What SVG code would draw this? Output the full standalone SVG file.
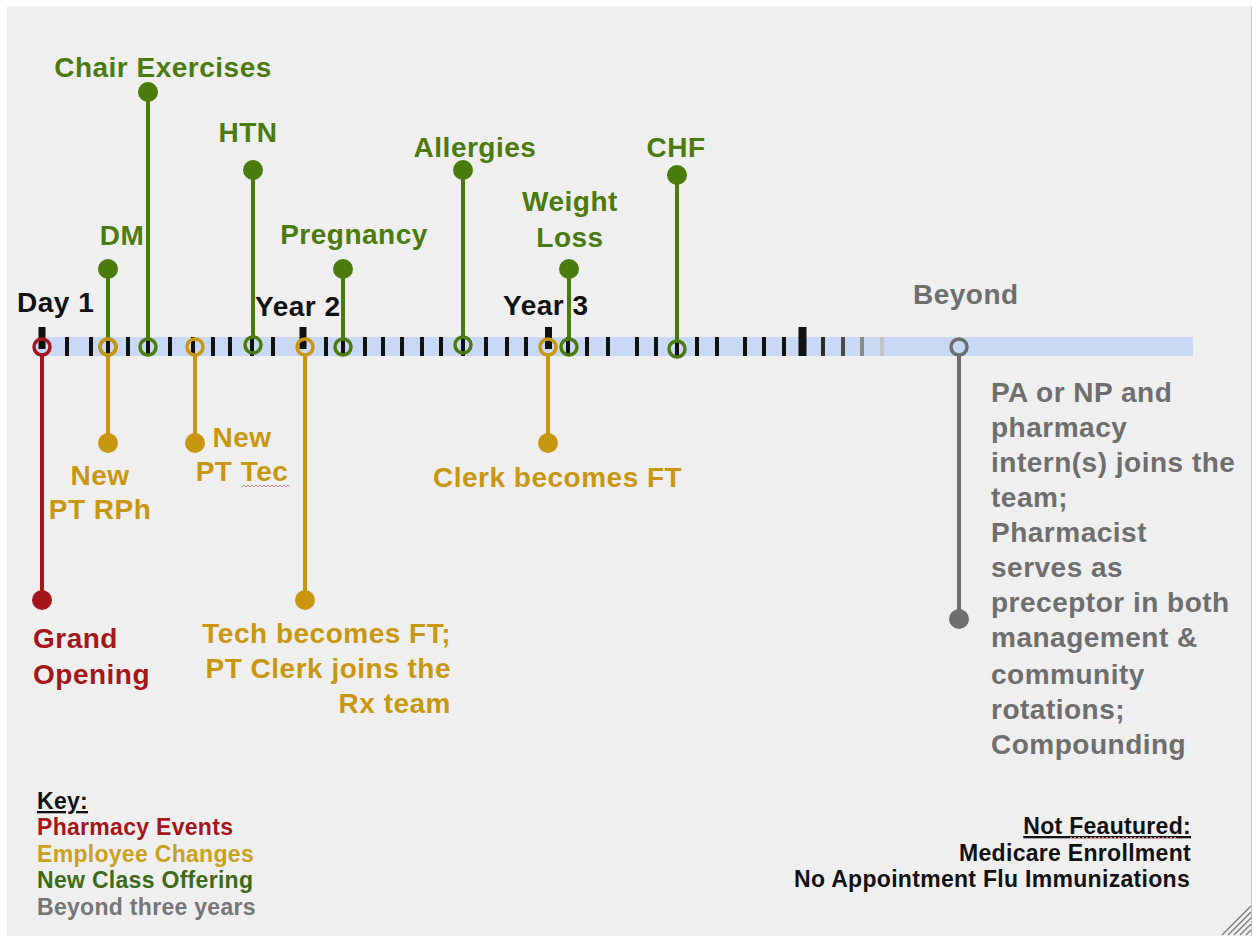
<svg xmlns="http://www.w3.org/2000/svg" width="1253" height="936" viewBox="0 0 1253 936">
<style>
text{font-family:"Liberation Sans",Arial,Helvetica,sans-serif;font-weight:bold;font-size:28px;letter-spacing:0.5px}
.g{fill:#4a7b0c}.o{fill:#c9970f}.r{fill:#a4161a}.y{fill:#6e6e6e}.k{fill:#111}
.key{font-size:23px;letter-spacing:0.3px}
.sg{stroke:#4a7b0c}.so{stroke:#c9970f}.sr{stroke:#a4161a}.sy{stroke:#6e6e6e}
.stem{stroke-width:4;fill:none}
.ring{stroke-width:3.5;fill:none}
.tk{fill:#111}
.mid{text-anchor:middle}.end{text-anchor:end}
.squig{fill:none;stroke:#e08890;stroke-width:1}
</style>
<rect x="0" y="0" width="1253" height="936" fill="#ffffff"/>
<rect x="7" y="6" width="1245" height="930" fill="#efefef"/>
<line x1="1251.5" y1="6" x2="1251.5" y2="936" stroke="#c8c8c8" stroke-width="1"/>
<g id="resize-grip" stroke="#777" stroke-width="1.2">
<line x1="1222" y1="935" x2="1251" y2="906"/>
<line x1="1228" y1="935" x2="1251" y2="912"/>
<line x1="1234" y1="935" x2="1251" y2="918"/>
<line x1="1240" y1="935" x2="1251" y2="924"/>
<line x1="1246" y1="935" x2="1251" y2="930"/>
</g>

<g id="axis">
<rect x="36" y="337" width="1157" height="19" fill="#c8d8f5"/>
<g id="ticks">
<rect class="tk" x="38.5" y="327" width="7" height="22"/>
<rect class="tk" x="65" y="337" width="4" height="19"/>
<rect class="tk" x="89" y="337" width="4" height="19"/>
<rect class="tk" x="106" y="337" width="4" height="19"/>
<rect class="tk" x="126" y="337" width="4" height="19"/>
<rect class="tk" x="146" y="337" width="4" height="19"/>
<rect class="tk" x="168" y="337" width="4" height="19"/>
<rect class="tk" x="191" y="337" width="4" height="19"/>
<rect class="tk" x="211" y="337" width="4" height="19"/>
<rect class="tk" x="228" y="337" width="4" height="19"/>
<rect class="tk" x="250" y="337" width="4" height="19"/>
<rect class="tk" x="271" y="337" width="4" height="19"/>
<rect class="tk" x="299.5" y="327" width="7" height="22"/>
<rect class="tk" x="324" y="337" width="4" height="19"/>
<rect class="tk" x="341" y="337" width="4" height="19"/>
<rect class="tk" x="363" y="337" width="4" height="19"/>
<rect class="tk" x="381" y="337" width="4" height="19"/>
<rect class="tk" x="400" y="337" width="4" height="19"/>
<rect class="tk" x="420" y="337" width="4" height="19"/>
<rect class="tk" x="439" y="337" width="4" height="19"/>
<rect class="tk" x="461" y="337" width="4" height="19"/>
<rect class="tk" x="484" y="337" width="4" height="19"/>
<rect class="tk" x="505" y="337" width="4" height="19"/>
<rect class="tk" x="524" y="337" width="4" height="19"/>
<rect class="tk" x="545" y="327" width="7" height="22"/>
<rect class="tk" x="566" y="337" width="4" height="19"/>
<rect class="tk" x="585" y="337" width="4" height="19"/>
<rect class="tk" x="606" y="337" width="4" height="19"/>
<rect class="tk" x="635" y="337" width="4" height="19"/>
<rect class="tk" x="654" y="337" width="4" height="19"/>
<rect class="tk" x="675" y="337" width="4" height="19"/>
<rect class="tk" x="695" y="337" width="4" height="19"/>
<rect class="tk" x="715" y="337" width="4" height="19"/>
<rect class="tk" x="743" y="337" width="4" height="19"/>
<rect class="tk" x="762" y="337" width="4" height="19"/>
<rect class="tk" x="782" y="337" width="4" height="19"/>
<rect class="tk" x="798.5" y="327" width="8" height="29"/>
<rect x="821" y="337" width="4" height="19" fill="#2a2a2a"/>
<rect x="841" y="337" width="4" height="19" fill="#4a4a4a"/>
<rect x="860" y="337" width="4" height="19" fill="#8a8a8a"/>
<rect x="880" y="337" width="4" height="19" fill="#c4c4c4"/>
</g>
<text class="k" x="17" y="312">Day 1</text>
<text class="k" x="255" y="316">Year 2</text>
<text class="k" x="503" y="315">Year 3</text>
</g>

<g id="connectors">
<line class="stem sr" x1="42" y1="355" x2="42" y2="600"/>
<line class="stem sg" x1="108" y1="269" x2="108" y2="339"/>
<line class="stem so" x1="108" y1="355" x2="108" y2="443"/>
<line class="stem sg" x1="148" y1="92" x2="148" y2="339"/>
<line class="stem so" x1="195" y1="355" x2="195" y2="443"/>
<line class="stem sg" x1="253" y1="170" x2="253" y2="337"/>
<line class="stem so" x1="305" y1="355" x2="305" y2="600"/>
<line class="stem sg" x1="343" y1="269" x2="343" y2="339"/>
<line class="stem sg" x1="463" y1="170" x2="463" y2="337"/>
<line class="stem so" x1="548" y1="355" x2="548" y2="443"/>
<line class="stem sg" x1="569" y1="269" x2="569" y2="339"/>
<line class="stem sg" x1="677" y1="175" x2="677" y2="341"/>
<line class="stem sy" x1="959" y1="355" x2="959" y2="619"/>
</g>

<g id="grand-opening">
<circle class="ring sr" cx="42" cy="347" r="8"/>
<circle class="r" cx="42" cy="600" r="10"/>
<text class="r" x="33" y="648">Grand</text>
<text class="r" x="33" y="684">Opening</text>
</g>

<g id="dm">
<circle class="ring sg" cx="108" cy="347" r="8"/>
<circle class="g" cx="108" cy="269" r="10"/>
<text class="g mid" x="122" y="245">DM</text>
</g>

<g id="new-pt-rph">
<circle class="ring so" cx="108" cy="347" r="8"/>
<circle class="o" cx="108" cy="443" r="10"/>
<text class="o mid" x="100" y="485">New</text>
<text class="o mid" x="100" y="519">PT RPh</text>
</g>

<g id="chair-exercises">
<circle class="ring sg" cx="148" cy="347" r="8"/>
<circle class="g" cx="148" cy="92" r="10"/>
<text class="g mid" x="163" y="77">Chair Exercises</text>
</g>

<g id="new-pt-tec">
<circle class="ring so" cx="195" cy="347" r="8"/>
<circle class="o" cx="195" cy="443" r="10"/>
<text class="o mid" x="242" y="447">New</text>
<text class="o mid" x="242" y="481">PT Tec</text>
<path class="squig" d="M242 487 l2 -2 l2 2 l2 -2 l2 2 l2 -2 l2 2 l2 -2 l2 2 l2 -2 l2 2 l2 -2 l2 2 l2 -2 l2 2 l2 -2 l2 2 l2 -2 l2 2 l2 -2 l2 2 l2 -2 l2 2 l2 -2 l2 2"/>
</g>

<g id="htn">
<circle class="ring sg" cx="253" cy="345" r="8"/>
<circle class="g" cx="253" cy="170" r="10"/>
<text class="g mid" x="248" y="142">HTN</text>
</g>

<g id="tech-becomes-ft">
<circle class="ring so" cx="305" cy="347" r="8"/>
<circle class="o" cx="305" cy="600" r="10"/>
<text class="o end" x="451" y="643">Tech becomes FT;</text>
<text class="o end" x="451" y="678">PT Clerk joins the</text>
<text class="o end" x="451" y="713">Rx team</text>
</g>

<g id="pregnancy">
<circle class="ring sg" cx="343" cy="347" r="8"/>
<circle class="g" cx="343" cy="269" r="10"/>
<text class="g mid" x="354" y="244">Pregnancy</text>
</g>

<g id="allergies">
<circle class="ring sg" cx="463" cy="345" r="8"/>
<circle class="g" cx="463" cy="170" r="10"/>
<text class="g mid" x="475" y="157">Allergies</text>
</g>

<g id="clerk-becomes-ft">
<circle class="ring so" cx="548" cy="347" r="8"/>
<circle class="o" cx="548" cy="443" r="10"/>
<text class="o" x="433" y="487">Clerk becomes FT</text>
</g>

<g id="weight-loss">
<circle class="ring sg" cx="569" cy="347" r="8"/>
<circle class="g" cx="569" cy="269" r="10"/>
<text class="g mid" x="570" y="211">Weight</text>
<text class="g mid" x="570" y="247">Loss</text>
</g>

<g id="chf">
<circle class="ring sg" cx="677" cy="349" r="8"/>
<circle class="g" cx="677" cy="175" r="10"/>
<text class="g mid" x="676" y="157">CHF</text>
</g>

<g id="beyond">
<text class="y" x="913" y="304">Beyond</text>
<circle class="ring sy" cx="959" cy="347" r="8" style="fill:#c8d8f5"/>
<circle class="y" cx="959" cy="619" r="10"/>
<text class="y" x="991" y="402">PA or NP and</text>
<text class="y" x="991" y="437">pharmacy</text>
<text class="y" x="991" y="472">intern(s) joins the</text>
<text class="y" x="991" y="507">team;</text>
<text class="y" x="991" y="542">Pharmacist</text>
<text class="y" x="991" y="577">serves as</text>
<text class="y" x="991" y="612">preceptor in both</text>
<text class="y" x="991" y="647">management &amp;</text>
<text class="y" x="991" y="684">community</text>
<text class="y" x="991" y="719">rotations;</text>
<text class="y" x="991" y="754">Compounding</text>
</g>

<g id="key">
<text class="key k" x="37" y="809" text-decoration="underline">Key:</text>
<text class="key" x="37" y="835" fill="#a4161a">Pharmacy Events</text>
<text class="key" x="37" y="862" fill="#c9a020">Employee Changes</text>
<text class="key" x="37" y="888" fill="#3c6a18">New Class Offering</text>
<text class="key" x="37" y="915" fill="#767676">Beyond three years</text>
</g>

<g id="not-featured">
<text class="key k end" x="1191" y="834" text-decoration="underline">Not Feautured:</text>
<path class="squig" d="M1069 839 l2 -2 l2 2 l2 -2 l2 2 l2 -2 l2 2 l2 -2 l2 2 l2 -2 l2 2 l2 -2 l2 2 l2 -2 l2 2 l2 -2 l2 2 l2 -2 l2 2 l2 -2 l2 2 l2 -2 l2 2 l2 -2 l2 2 l2 -2 l2 2 l2 -2 l2 2 l2 -2 l2 2 l2 -2 l2 2 l2 -2 l2 2 l2 -2 l2 2 l2 -2 l2 2 l2 -2 l2 2 l2 -2 l2 2 l2 -2 l2 2 l2 -2 l2 2 l2 -2 l2 2 l2 -2 l2 2 l2 -2 l2 2 l2 -2 l2 2"/>
<text class="key k end" x="1191" y="861">Medicare Enrollment</text>
<text class="key k end" x="1190" y="887">No Appointment Flu Immunizations</text>
</g>
</svg>
